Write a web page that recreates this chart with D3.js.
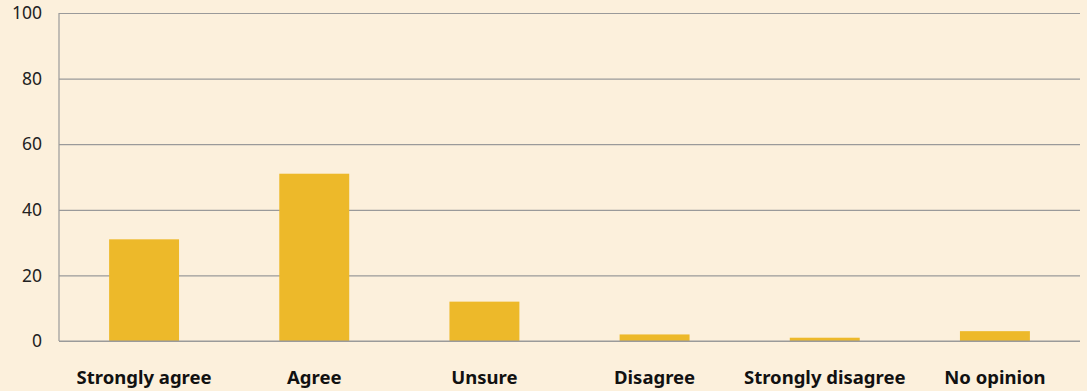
<!DOCTYPE html>
<html><head><meta charset="utf-8">
<script src="https://cdn.jsdelivr.net/npm/d3@7"></script>
<style>
html,body{margin:0;padding:0;background:#FCF0DC;}
svg{display:block;}
</style></head>
<body>
<svg id="chart" width="1087" height="391"></svg>
<script>
const categories = ["Strongly agree","Agree","Unsure","Disagree","Strongly disagree","No opinion"];
const values = [31, 51, 12, 2, 1, 3];
const yTicks = [0, 20, 40, 60, 80, 100];

const W = 1087, H = 391;
const m = {left: 59, right: 7, top: 13, bottom: 50};
const svg = d3.select("#chart");
svg.append("rect").attr("width", W).attr("height", H).attr("fill", "#FCF0DC");

const x = d3.scaleBand().domain(categories).range([m.left, W - m.right]).paddingInner(0.589).paddingOuter(0.2945);
const y = d3.scaleLinear().domain([0, 100]).range([H - m.bottom, m.top]);

const font = "'Source Sans Pro','Noto Sans',sans-serif";

// grid
const gy = svg.append("g").attr("transform", `translate(${m.left},0)`)
  .call(d3.axisLeft(y).tickValues(yTicks).tickSize(-(W - m.right - m.left)).tickPadding(17).tickFormat(d3.format("d")));
gy.select(".domain").remove();
gy.selectAll(".tick line").attr("stroke", "#9a9a9a").attr("stroke-width", 1.2);
gy.selectAll(".tick text").attr("fill", "#222").style("font-family", font).style("font-size", "17.5px");

// left axis line
svg.append("line").attr("x1", m.left).attr("x2", m.left).attr("y1", y(100)).attr("y2", y(0))
  .attr("stroke", "#9a9a9a").attr("stroke-width", 1.2);

// bars
svg.append("g").selectAll("rect").data(categories).join("rect")
  .attr("x", d => x(d)).attr("width", x.bandwidth())
  .attr("y", (d, i) => y(values[i])).attr("height", (d, i) => y(0) - y(values[i]))
  .attr("fill", "#EDB92A");

// baseline
svg.append("line").attr("x1", m.left).attr("x2", W - m.right).attr("y1", y(0)).attr("y2", y(0))
  .attr("stroke", "#9a9a9a").attr("stroke-width", 1.2);

// x labels
const gx = svg.append("g").attr("transform", `translate(0,${y(0)})`)
  .call(d3.axisBottom(x).tickSize(0).tickPadding(30));
gx.select(".domain").remove();
gx.selectAll(".tick text").attr("fill", "#111").style("font-family", font).style("font-size", "18.5px").style("font-weight", "bold");
</script>
</body></html>
